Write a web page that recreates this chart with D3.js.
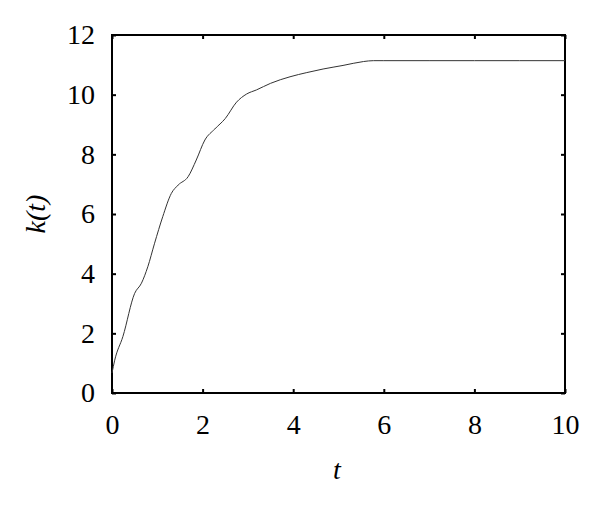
<!DOCTYPE html>
<html>
<head>
<meta charset="utf-8">
<script src="https://cdn.jsdelivr.net/npm/d3@7"></script>
<style>
  body { margin: 0; background: #fff; }
  text { font-family: "Liberation Serif", "DejaVu Serif", serif; fill: #000; }
</style>
</head>
<body>
<div id="chart"></div>
<script>
var width = 600,
    height = 513,
    margin = {top: 35, right: 35, bottom: 120, left: 112};

// data
var tValues = [0, 0.06, 0.24, 0.5, 0.65, 0.79, 0.94, 1.12, 1.31, 1.46, 1.68, 1.86, 2.05, 2.27, 2.5, 2.75, 2.97, 3.19, 3.5, 3.93, 4.3, 4.66, 5.1, 5.55, 5.77, 6.0, 7.0, 8.0, 9.0, 10.0];
var kValues = [0.67, 1.1, 1.89, 3.34, 3.68, 4.23, 5.02, 5.91, 6.69, 6.97, 7.25, 7.81, 8.48, 8.85, 9.2, 9.75, 10.02, 10.16, 10.38, 10.6, 10.74, 10.86, 10.98, 11.11, 11.14, 11.14, 11.14, 11.14, 11.14, 11.14];
var xTicks = [0, 2, 4, 6, 8, 10];
var yTicks = [0, 2, 4, 6, 8, 10, 12];

var data = tValues.map(function(t, i) { return {t: t, k: kValues[i]}; });

var svg = d3.select('#chart').append('svg')
    .attr('width', width).attr('height', height);

var x = d3.scaleLinear().domain([0, 10]).range([margin.left, width - margin.right]);
var y = d3.scaleLinear().domain([0, 12]).range([height - margin.bottom, margin.top]);

var tickLen = 4;
var fontSize = 28;

// axes, ticks point inward
svg.append('g')
    .attr('transform', 'translate(0,' + y(0) + ')')
    .call(d3.axisBottom(x).tickValues(xTicks).tickSizeInner(-tickLen).tickSizeOuter(0).tickPadding(21))
    .call(function(g) {
      g.select('.domain').remove();
      g.selectAll('text').attr('font-size', fontSize).attr('font-family', null);
    });
svg.append('g')
    .attr('transform', 'translate(' + x(0) + ',0)')
    .call(d3.axisLeft(y).tickValues(yTicks).tickSizeInner(-tickLen).tickSizeOuter(0).tickPadding(17))
    .call(function(g) {
      g.select('.domain').remove();
      g.selectAll('text').attr('font-size', fontSize).attr('font-family', null);
    });
svg.append('g')
    .attr('transform', 'translate(0,' + y(12) + ')')
    .call(d3.axisTop(x).tickValues(xTicks).tickSizeInner(-tickLen).tickSizeOuter(0).tickFormat(''))
    .call(function(g) { g.select('.domain').remove(); });
svg.append('g')
    .attr('transform', 'translate(' + x(10) + ',0)')
    .call(d3.axisRight(y).tickValues(yTicks).tickSizeInner(-tickLen).tickSizeOuter(0).tickFormat(''))
    .call(function(g) { g.select('.domain').remove(); });

svg.selectAll('.tick line').attr('stroke', '#000').attr('stroke-width', 2);

// frame
svg.append('rect')
    .attr('x', x(0)).attr('y', y(12))
    .attr('width', x(10) - x(0)).attr('height', y(0) - y(12))
    .attr('fill', 'none').attr('stroke', '#000').attr('stroke-width', 2);

// curve
var line = d3.line()
    .x(function(d) { return x(d.t); })
    .y(function(d) { return y(d.k); })
    .curve(d3.curveMonotoneX);

svg.append('path')
    .datum(data)
    .attr('d', line)
    .attr('fill', 'none')
    .attr('stroke', '#333')
    .attr('stroke-width', 1);

// axis labels
svg.append('text')
    .attr('x', 337).attr('y', 479)
    .attr('text-anchor', 'middle')
    .attr('font-size', fontSize).attr('font-style', 'italic')
    .text('t');

svg.append('text')
    .attr('transform', 'translate(45,' + y(6) + ') rotate(-90)')
    .attr('text-anchor', 'middle')
    .attr('font-size', fontSize).attr('font-style', 'italic')
    .text('k(t)');
</script>
</body>
</html>
